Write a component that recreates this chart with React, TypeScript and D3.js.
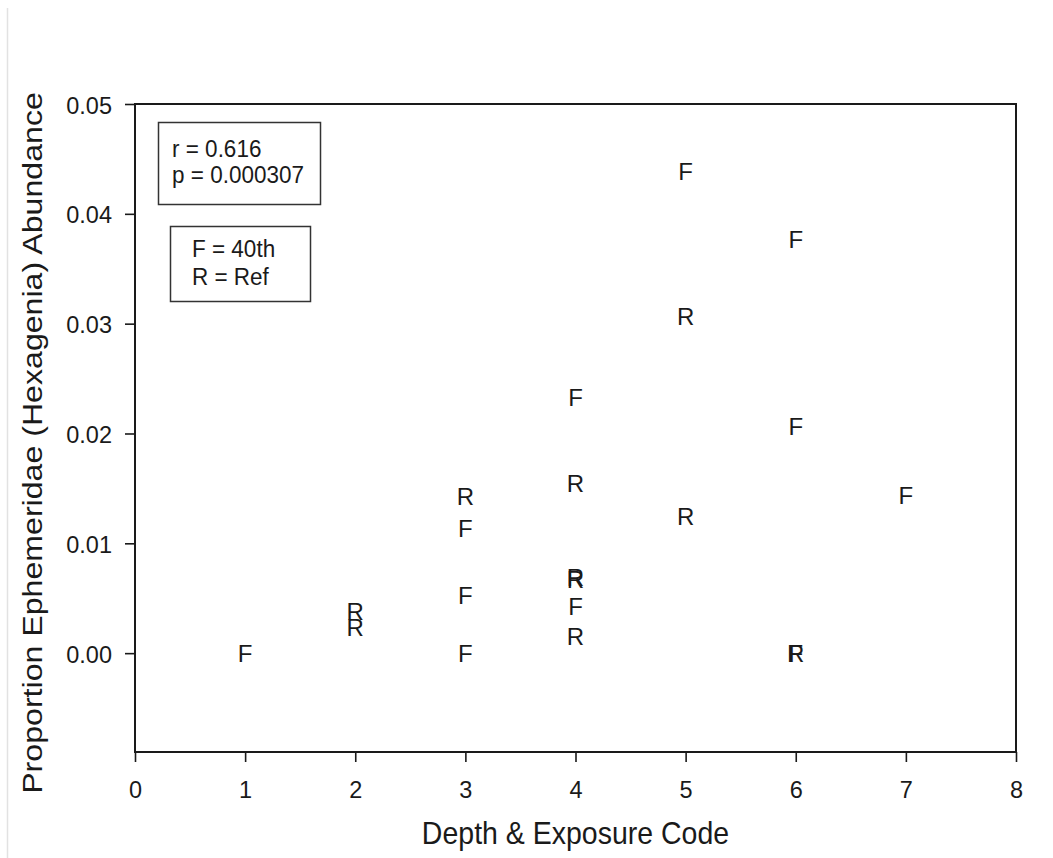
import React, { useEffect, useRef } from 'react';
import * as d3 from 'd3';

// Depth & exposure code of each sample
const codes = [1, 2, 2, 3, 3, 3, 3, 4, 4, 4, 4, 4, 4, 5, 5, 5, 6, 6, 6, 6, 7];
// Proportion Ephemeridae (Hexagenia) abundance
const abundance = [
  0.0, 0.0038, 0.0024, 0.0143, 0.0114, 0.0053, 0.0, 0.0233, 0.0155, 0.0069, 0.0067, 0.0043,
  0.0015, 0.0439, 0.0307, 0.0125, 0.0377, 0.0207, 0.0, 0.0, 0.0144,
];
// Site type: F = 40th, R = Ref
const sites = ['F', 'R', 'R', 'R', 'F', 'F', 'F', 'F', 'R', 'R', 'R', 'F', 'R', 'F', 'R', 'R', 'F', 'F', 'F', 'R', 'F'];

const xTicks = [0, 1, 2, 3, 4, 5, 6, 7, 8];
const yTicks = [0, 0.01, 0.02, 0.03, 0.04, 0.05];
const statsLines = ['r = 0.616', 'p = 0.000307'];
const keyLines = ['F = 40th', 'R = Ref'];

const FONT = 'Arial, "Liberation Sans", sans-serif';

export default function App() {
  const svgRef = useRef<SVGSVGElement>(null);

  useEffect(() => {
    if (!svgRef.current) return;
    const svg = d3.select(svgRef.current);
    svg.selectAll('*').remove();

    const width = 1053;
    const height = 858;
    const margin = { top: 104, right: 37, bottom: 106, left: 135 };
    const ink = '#1a1a1a';
    const yMin = -0.009;

    const x = d3.scaleLinear().domain([0, 8]).range([margin.left, width - margin.right]);
    const y = d3.scaleLinear().domain([yMin, 0.05]).range([height - margin.bottom, margin.top]);

    // the source picture is slightly stretched vertically, so text gets a y-scale
    const label = (
      parent: d3.Selection<any, any, any, any>,
      tx: number,
      ty: number,
      txt: string,
      size: number,
      sy: number,
      anchor = 'start',
    ) =>
      parent.append('text')
        .attr('transform', `translate(${tx},${ty}) scale(1,${sy})`)
        .attr('text-anchor', anchor)
        .attr('font-family', FONT)
        .attr('font-size', size)
        .attr('fill', ink)
        .text(txt);

    // faint page edge on the left
    svg.append('line')
      .attr('x1', 7.5).attr('x2', 7.5)
      .attr('y1', 8).attr('y2', height)
      .attr('stroke', '#e2e2e2').attr('stroke-width', 1.5);

    // plot frame
    svg.append('rect')
      .attr('x', x(0)).attr('y', y(0.05))
      .attr('width', x(8) - x(0)).attr('height', y(yMin) - y(0.05))
      .attr('fill', 'none').attr('stroke', ink).attr('stroke-width', 2);

    const xAxis = svg.append('g')
      .attr('transform', `translate(0,${y(yMin)})`)
      .call(d3.axisBottom(x).tickValues(xTicks).tickFormat(d3.format('d')).tickSize(10));
    const yAxis = svg.append('g')
      .attr('transform', `translate(${x(0)},0)`)
      .call(d3.axisLeft(y).tickValues(yTicks).tickFormat(d3.format('.2f')).tickSize(10));

    [xAxis, yAxis].forEach(g => {
      g.select('.domain').remove();
      g.selectAll('line').attr('stroke', ink).attr('stroke-width', 1.6);
      g.selectAll('text')
        .attr('fill', ink)
        .attr('font-family', FONT)
        .attr('font-size', 23.5)
        .attr('x', null)
        .attr('y', null)
        .attr('dy', null);
    });
    xAxis.selectAll('text').attr('transform', 'translate(0,46) scale(1,1.05)');
    yAxis.selectAll('text').attr('transform', 'translate(-23,9) scale(1,1.05)');

    // axis titles
    label(svg, (x(0) + x(8)) / 2, 844, 'Depth & Exposure Code', 28.5, 1.12, 'middle');
    svg.append('text')
      .attr('transform', `translate(42,${(y(0.05) + y(yMin)) / 2 + 15}) scale(1,1.127) rotate(-90)`)
      .attr('text-anchor', 'middle')
      .attr('font-family', FONT)
      .attr('font-size', 28.5)
      .attr('fill', ink)
      .text('Proportion Ephemeridae (Hexagenia) Abundance');

    // data points drawn as letters
    svg.append('g')
      .selectAll('text')
      .data(codes.map((c, i) => ({ c, v: abundance[i], s: sites[i] })))
      .join('text')
      .attr('transform', d => `translate(${x(d.c)},${y(d.v) + 8.8}) scale(1,1.03)`)
      .attr('text-anchor', 'middle')
      .attr('font-family', FONT)
      .attr('font-size', 24)
      .attr('fill', ink)
      .text(d => d.s);

    // stats and key boxes
    const drawBox = (bx: number, by: number, bw: number, bh: number, tx: number, lines: string[], base: number, gap: number) => {
      svg.append('rect')
        .attr('x', bx).attr('y', by).attr('width', bw).attr('height', bh)
        .attr('fill', 'white').attr('stroke', '#333').attr('stroke-width', 1.5);
      lines.forEach((t, i) => label(svg, tx, base + i * gap, t, 22.5, 1.1));
    };
    drawBox(158.5, 122.5, 162, 82, 172, statsLines, 157, 26);
    drawBox(170.5, 226.5, 140, 75, 192, keyLines, 257, 28);
  }, []);

  return (
    <svg
      ref={svgRef}
      width={1053}
      height={858}
      style={{ position: 'absolute', left: 0, top: 0, background: 'white' }}
    />
  );
}
